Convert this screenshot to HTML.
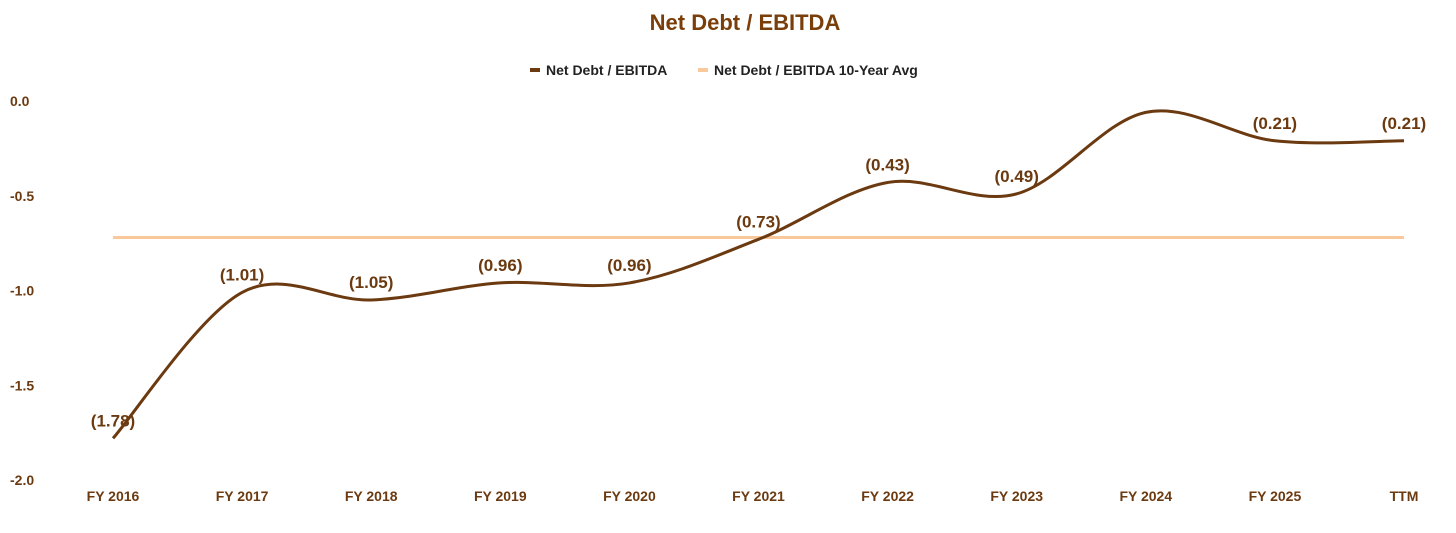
<!DOCTYPE html>
<html><head><meta charset="utf-8"><style>
body{margin:0;background:#fff;width:1456px;height:528px;overflow:hidden;font-family:"Liberation Sans",Arial,sans-serif}
</style></head><body>
<svg id="c" width="1456" height="528">
<text x="745" y="30" text-anchor="middle" font-size="22" font-weight="bold" fill="#7a3e0b">Net Debt / EBITDA</text>
<g>
<line x1="530" y1="70" x2="540" y2="70" stroke="#6b3a10" stroke-width="4"/>
<text x="546" y="75" font-size="14" font-weight="bold" fill="#222">Net Debt / EBITDA</text>
<line x1="698" y1="70" x2="708" y2="70" stroke="#f9c99b" stroke-width="4"/>
<text x="714" y="75" font-size="14" font-weight="bold" fill="#222">Net Debt / EBITDA 10-Year Avg</text>
</g>
<g id="yaxis"></g>
<g id="xaxis"></g>
<g id="plot"></g>
</svg>
<script>
const categories=["FY 2016","FY 2017","FY 2018","FY 2019","FY 2020","FY 2021","FY 2022","FY 2023","FY 2024","FY 2025","TTM"];
const values=[-1.78,-1.01,-1.05,-0.96,-0.96,-0.73,-0.43,-0.49,-0.06,-0.21,-0.21];
const labels=["(1.78)","(1.01)","(1.05)","(0.96)","(0.96)","(0.73)","(0.43)","(0.49)","","(0.21)","(0.21)"];
const avgValue=-0.72;
const yTicks=[0,-0.5,-1,-1.5,-2];
const yTickLabels=["0.0","-0.5","-1.0","-1.5","-2.0"];
const NS="http://www.w3.org/2000/svg";
const x=i=>113+i*129.1;
const y=v=>101-v*189.5;
function mk(t,a,p){const e=document.createElementNS(NS,t);for(const k in a)e.setAttribute(k,a[k]);p.appendChild(e);return e;}
const ya=document.getElementById('yaxis'),xa=document.getElementById('xaxis'),pl=document.getElementById('plot');
yTicks.forEach((v,i)=>{const t=mk('text',{x:10,y:y(v)+5,'font-size':14,'font-weight':'bold',fill:'#6b3a10'},ya);t.textContent=yTickLabels[i];

});
categories.forEach((c,i)=>{const t=mk('text',{x:x(i),y:501,'text-anchor':'middle','font-size':14,'font-weight':'bold',fill:'#6b3a10'},xa);t.textContent=c;

});
const avg=mk('line',{x1:x(0),x2:x(categories.length-1),y1:y(avgValue),y2:y(avgValue),stroke:'#f9c99b','stroke-width':3},pl);


const P=values.map((v,i)=>[x(i),y(v)]);
let d=`M${P[0][0]},${P[0][1]}`;
for(let i=0;i<P.length-1;i++){const p0=P[i-1]||P[i],p1=P[i],p2=P[i+1],p3=P[i+2]||p2;
d+=` C${p1[0]+(p2[0]-p0[0])/6},${p1[1]+(p2[1]-p0[1])/6} ${p2[0]-(p3[0]-p1[0])/6},${p2[1]-(p3[1]-p1[1])/6} ${p2[0]},${p2[1]}`;}
const ln=mk('path',{d:d,fill:'none',stroke:'#6b3a10','stroke-width':3},pl);


values.forEach((v,i)=>{if(!labels[i])return;const t=mk('text',{x:x(i),y:y(v)-12,'text-anchor':'middle','font-size':17,'font-weight':'bold',fill:'#6b3a10'},pl);t.textContent=labels[i];

});
</script>
</body></html>
